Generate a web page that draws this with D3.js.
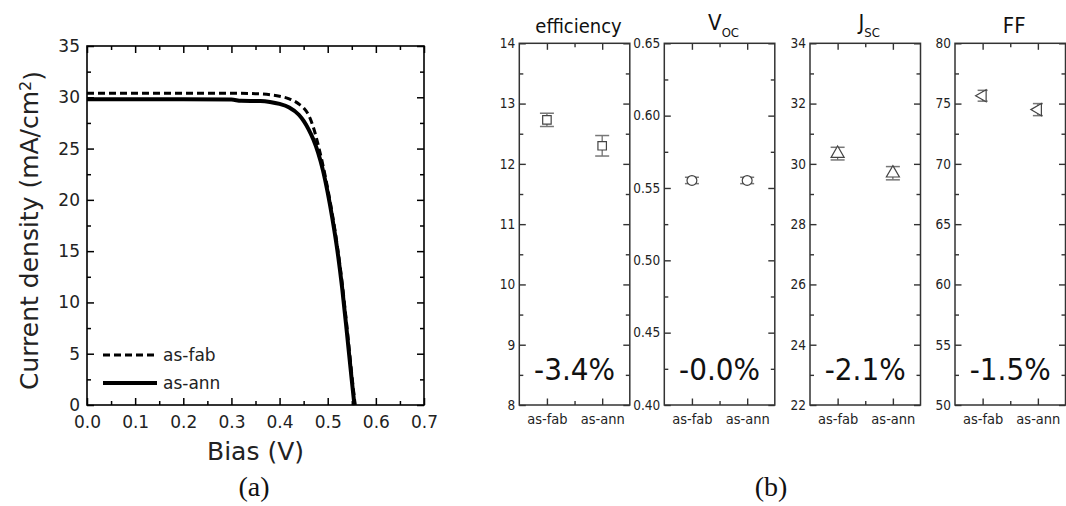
<!DOCTYPE html>
<html>
<head>
<meta charset="utf-8">
<script src="https://cdn.jsdelivr.net/npm/d3@7"></script>
<style>
  body { margin: 0; background: #fff; }
  svg { display: block; }
</style>
</head>
<body>
<svg id="fig" width="1066" height="506"></svg>
<script>
// ---------- (a) J–V curves ----------
const biasFab = [0, 0.1, 0.2, 0.3, 0.35, 0.38, 0.40, 0.42, 0.44, 0.45, 0.46, 0.47, 0.48, 0.49, 0.50, 0.51, 0.52, 0.53, 0.54, 0.55, 0.557];
const jFab    = [30.4, 30.4, 30.4, 30.4, 30.35, 30.25, 30.1, 29.85, 29.35, 28.95, 28.3, 27.1, 25.4, 23.4, 21.1, 18.5, 15.5, 11.9, 7.6, 3.0, 0];
const biasAnn = [0, 0.1, 0.2, 0.3, 0.32, 0.36, 0.38, 0.40, 0.42, 0.44, 0.45, 0.46, 0.47, 0.48, 0.49, 0.50, 0.51, 0.52, 0.53, 0.54, 0.55, 0.5555];
const jAnn    = [29.8, 29.8, 29.8, 29.78, 29.66, 29.64, 29.55, 29.35, 29.0, 28.3, 27.7, 26.9, 25.9, 24.6, 22.9, 20.7, 18.1, 15.1, 11.4, 7.0, 2.4, 0];
const curveNames = ["as-fab", "as-ann"];
const biasTicks = [0, 0.1, 0.2, 0.3, 0.4, 0.5, 0.6, 0.7];
const biasMinor = [0.05, 0.15, 0.25, 0.35, 0.45, 0.55, 0.65];
const jTicks = [0, 5, 10, 15, 20, 25, 30, 35];
const jMinor = [2.5, 7.5, 12.5, 17.5, 22.5, 27.5, 32.5];

// ---------- (b) device metrics ----------
const conditions = ["as-fab", "as-ann"];
const effMean = [12.73, 12.30];
const effErr  = [0.11, 0.17];
const vocMean = [0.5552, 0.5552];
const vocErr  = [0.0022, 0.0022];
const jscMean = [30.34, 29.69];
const jscErr  = [0.21, 0.22];
const ffMean  = [75.65, 74.5];
const ffErr   = [0.45, 0.5];
const metricNames = ["efficiency", "V", "J", "FF"];
const metricSubs  = ["", "OC", "SC", ""];
const changeLabels = ["-3.4%", "-0.0%", "-2.1%", "-1.5%"];
const effTicks = [8, 9, 10, 11, 12, 13, 14];
const vocTicks = [0.40, 0.45, 0.50, 0.55, 0.60, 0.65];
const jscTicks = [22, 24, 26, 28, 30, 32, 34];
const ffTicks  = [50, 55, 60, 65, 70, 75, 80];

const svg = d3.select("#fig");
const sansA = "'DejaVu Sans', Verdana, sans-serif";
const sansB = "'DejaVu Sans Condensed', 'DejaVu Sans', sans-serif";

function styleAxis(g, color, width, font, size, textColor) {
  g.select(".domain").remove();
  g.selectAll(".tick line").attr("stroke", color).attr("stroke-width", width);
  g.selectAll(".tick text").attr("fill", textColor).style("font-family", font).style("font-size", size + "px");
}

// ===== Panel (a) =====
const A = { l: 87, t: 46, r: 424, b: 405 };
const xA = d3.scaleLinear().domain([0, 0.7]).range([A.l, A.r]);
const yA = d3.scaleLinear().domain([0, 35]).range([A.b, A.t]);
const gA = svg.append("g");

function axesA() {
  const mk = [
    [d3.axisBottom(xA).tickValues(biasTicks).tickFormat(d3.format(".1f")), A.b, 0, -7, 11],
    [d3.axisBottom(xA).tickValues(biasMinor).tickFormat(""), A.b, 0, -4, 0],
    [d3.axisTop(xA).tickValues(biasTicks).tickFormat(""), A.t, 0, -7, 0],
    [d3.axisTop(xA).tickValues(biasMinor).tickFormat(""), A.t, 0, -4, 0],
    [d3.axisLeft(yA).tickValues(jTicks).tickFormat(d3.format("d")), 0, A.l, -7, 7],
    [d3.axisLeft(yA).tickValues(jMinor).tickFormat(""), 0, A.l, -4, 0],
    [d3.axisRight(yA).tickValues(jTicks).tickFormat(""), 0, A.r, -7, 0],
    [d3.axisRight(yA).tickValues(jMinor).tickFormat(""), 0, A.r, -4, 0]
  ];
  mk.forEach(([ax, ty, tx, size, pad]) => {
    const g = gA.append("g").attr("transform", `translate(${tx},${ty})`)
      .call(ax.tickSize(size).tickPadding(pad));
    styleAxis(g, "#000", 1.5, sansA, 17, "#222");
  });
}
axesA();

const lineA = d3.line().x(d => xA(d[0])).y(d => yA(d[1])).curve(d3.curveMonotoneX);
const fabPts = biasFab.map((v, i) => [v, jFab[i]]);
const annPts = biasAnn.map((v, i) => [v, jAnn[i]]);

gA.append("path").datum(fabPts).attr("d", lineA)
  .attr("fill", "none").attr("stroke", "#000").attr("stroke-width", 3)
  .attr("stroke-dasharray", "7,4");
gA.append("path").datum(annPts).attr("d", lineA)
  .attr("fill", "none").attr("stroke", "#000").attr("stroke-width", 4);

gA.append("rect").attr("x", A.l).attr("y", A.t)
  .attr("width", A.r - A.l).attr("height", A.b - A.t)
  .attr("fill", "none").attr("stroke", "#000").attr("stroke-width", 1.6);

// legend
const legY = [355, 383];
curveNames.forEach((name, i) => {
  gA.append("line").attr("x1", 103).attr("x2", 157).attr("y1", legY[i]).attr("y2", legY[i])
    .attr("stroke", "#000").attr("stroke-width", i === 0 ? 3 : 4)
    .attr("stroke-dasharray", i === 0 ? "7,4" : null);
  gA.append("text").attr("x", 163).attr("y", legY[i]).attr("dy", "0.35em")
    .style("font-family", sansA).style("font-size", "17px").attr("fill", "#222").text(name);
});

// axis titles
gA.append("text").attr("x", (A.l + A.r) / 2).attr("y", 460).attr("text-anchor", "middle")
  .style("font-family", sansA).style("font-size", "25px").attr("fill", "#222").text("Bias (V)");
const yt = gA.append("text").attr("transform", `translate(38,${(A.t + A.b) / 2 + 5}) rotate(-90)`)
  .attr("text-anchor", "middle").style("font-family", sansA).style("font-size", "25px").attr("fill", "#222");
yt.append("tspan").text("Current density (mA/cm");
yt.append("tspan").attr("dy", "-0.45em").style("font-size", "16px").text("2");
yt.append("tspan").attr("dy", "0.45em").text(")");

svg.append("text").attr("x", 254).attr("y", 496).attr("text-anchor", "middle")
  .style("font-family", "'Liberation Serif', 'Times New Roman', serif").style("font-size", "28px")
  .attr("fill", "#111").text("(a)");

// ===== Panel (b) =====
const B = { t: 43.3, b: 405, w: 110.5 };
const lefts = [519.3, 664.3, 810, 955];
const metrics = [
  { mean: effMean, err: effErr, ticks: effTicks, fmt: d3.format("d"), sym: d3.symbolSquare, size: 72, rot: 0 },
  { mean: vocMean, err: vocErr, ticks: vocTicks, fmt: d3.format(".2f"), sym: d3.symbolCircle, size: 76, rot: 0 },
  { mean: jscMean, err: jscErr, ticks: jscTicks, fmt: d3.format("d"), sym: d3.symbolTriangle, size: 74, rot: 0 },
  { mean: ffMean, err: ffErr, ticks: ffTicks, fmt: d3.format("d"), sym: d3.symbolTriangle, size: 64, rot: -90 }
];

metrics.forEach((m, k) => {
  const L = lefts[k], R = L + B.w;
  const g = svg.append("g");
  const x = d3.scalePoint().domain(conditions).range([L, R]).padding(0.5);
  const lo = m.ticks[0], hi = m.ticks[m.ticks.length - 1];
  const y = d3.scaleLinear().domain([lo, hi]).range([B.b, B.t]);
  const step = m.ticks[1] - m.ticks[0];
  const minor = m.ticks.slice(0, -1).map(t => t + step / 2);
  const mid = (x(conditions[0]) + x(conditions[1])) / 2;
  const xMid = d3.scaleIdentity();

  const axes = [
    [d3.axisLeft(y).tickValues(m.ticks).tickFormat(m.fmt), L, 0, -6.5, 4, 13.5],
    [d3.axisLeft(y).tickValues(minor).tickFormat(""), L, 0, -4, 0, 13],
    [d3.axisRight(y).tickValues(m.ticks).tickFormat(""), R, 0, -6.5, 0, 13],
    [d3.axisRight(y).tickValues(minor).tickFormat(""), R, 0, -4, 0, 13],
    [d3.axisBottom(x).tickFormat(d => d), 0, B.b, -6.5, 8.5, 14.5],
    [d3.axisTop(x).tickFormat(""), 0, B.t, -6.5, 0, 14.5],
    [d3.axisBottom(xMid).tickValues([mid]).tickFormat(""), 0, B.b, -4, 0, 14.5],
    [d3.axisTop(xMid).tickValues([mid]).tickFormat(""), 0, B.t, -4, 0, 14.5]
  ];
  axes.forEach(([ax, tx, ty, size, pad, fs]) => {
    const a = g.append("g").attr("transform", `translate(${tx},${ty})`)
      .call(ax.tickSize(size).tickPadding(pad));
    styleAxis(a, "#333", 1.4, sansB, fs, "#222");
  });

  g.append("rect").attr("x", L).attr("y", B.t).attr("width", B.w).attr("height", B.b - B.t)
    .attr("fill", "none").attr("stroke", "#333").attr("stroke-width", 1.5);

  // error bars and markers
  conditions.forEach((c, i) => {
    const cx = x(c), cy = y(m.mean[i]);
    const y0 = y(m.mean[i] - m.err[i]), y1 = y(m.mean[i] + m.err[i]);
    const cap = k === 3 ? 5 : 7;
    g.append("line").attr("x1", cx).attr("x2", cx).attr("y1", y0).attr("y2", y1)
      .attr("stroke", "#666").attr("stroke-width", 1.2);
    [y0, y1].forEach(yy => g.append("line").attr("x1", cx - cap).attr("x2", cx + cap)
      .attr("y1", yy).attr("y2", yy).attr("stroke", "#777").attr("stroke-width", 1.5));
    g.append("path").attr("d", d3.symbol().type(m.sym).size(m.size)())
      .attr("transform", `translate(${cx},${cy}) rotate(${m.rot})`)
      .attr("fill", "#fff").attr("stroke", "#444").attr("stroke-width", 1.2);
  });

  // title with optional subscript
  const cxT = (L + R) / 2 + 4;
  const title = g.append("text").attr("x", cxT).attr("y", metricSubs[k] ? 29.5 : 32.5)
    .attr("text-anchor", "middle").style("font-family", sansB).attr("fill", "#111");
  title.append("tspan").style("font-size", k === 0 ? "20px" : "22px").text(metricNames[k]);
  if (metricSubs[k]) {
    title.append("tspan").attr("dy", "7").style("font-size", "13px").text(metricSubs[k]);
  }

  // relative change
  g.append("text").attr("x", (L + R) / 2).attr("y", 380).attr("text-anchor", "middle")
    .style("font-family", sansB).style("font-size", "31px").attr("fill", "#111")
    .text(changeLabels[k]);
});

svg.append("text").attr("x", 771).attr("y", 496).attr("text-anchor", "middle")
  .style("font-family", "'Liberation Serif', 'Times New Roman', serif").style("font-size", "28px")
  .attr("fill", "#111").text("(b)");
</script>
</body>
</html>
